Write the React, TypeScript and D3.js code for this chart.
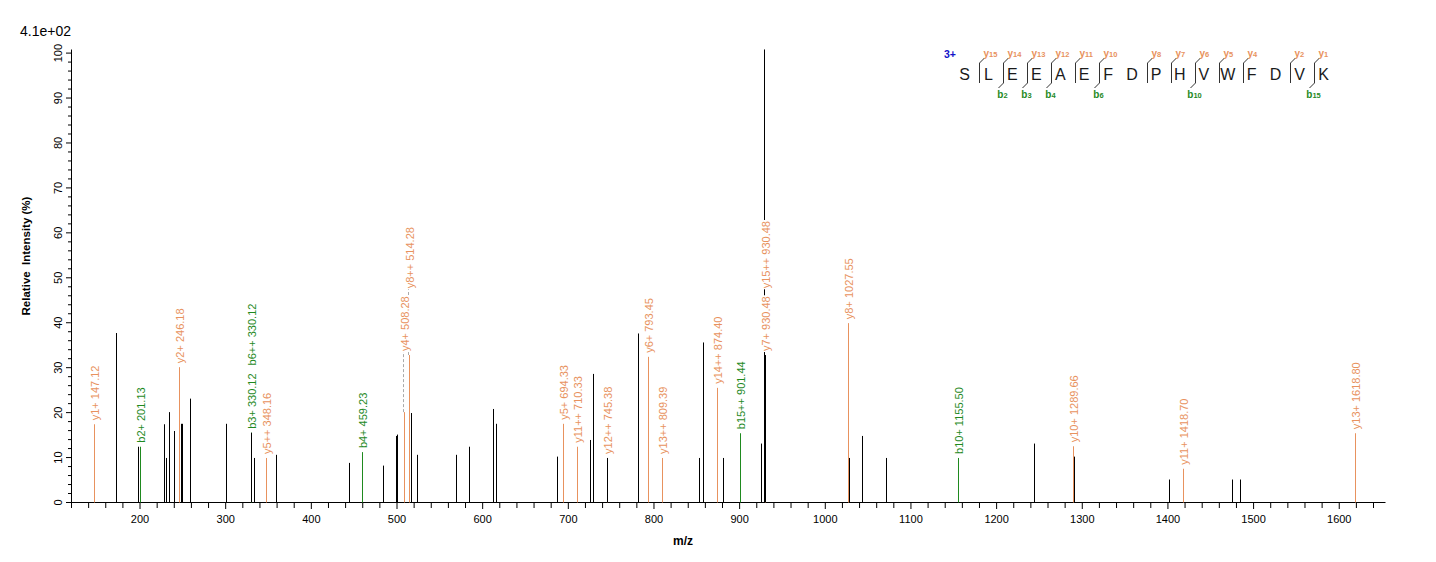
import React, { useEffect, useRef } from "react";
import * as d3 from "d3";

const W = 1436;
const H = 562;
const FONT = '"Liberation Sans", Arial, Helvetica, sans-serif';
const ORANGE = "#E8925E";
const GREEN = "#1F8A1F";

// unassigned peaks (m/z, relative intensity %)
const peakMz = [
  172.7, 198.6, 228.7, 231.1, 234.2, 240.4, 248.2, 249.4, 259.1, 300.4, 330.4, 333.6, 359.5,
  444.7, 484.4, 499.2, 500.4, 517.0, 523.7, 568.9, 584.8, 612.9, 616.2, 686.8, 726.1, 729.6,
  746.0, 782.1, 853.7, 857.9, 881.3, 926.1, 928.6, 929.5, 930.3, 1028.0, 1042.9, 1070.9,
  1244.4, 1290.4, 1402.0, 1474.8, 1485.3,
];
const peakInt = [
  37.6, 12.3, 17.3, 9.8, 20.0, 15.8, 17.4, 17.4, 23.0, 17.4, 15.4, 9.8, 10.5,
  8.7, 8.1, 14.7, 15.0, 19.8, 10.5, 10.5, 12.3, 20.7, 17.4, 10.1, 13.8, 28.5,
  9.8, 37.5, 9.8, 35.5, 9.8, 13.0, 32.7, 100.7, 32.7, 9.8, 14.7, 9.8,
  13.0, 10.1, 5.0, 5.0, 5.0,
];

// assigned fragment ions
const ionName = [
  "y1+", "b2+", "y2+", "b3+", "b6++", "y5++", "b4+", "y4+", "y8++", "y5+", "y11++", "y12++",
  "y6+", "y13++", "y14++", "b15++", "y7+", "y15++", "y8+", "b10+", "y10+", "y11+", "y13+",
];
const ionMz = [
  147.12, 201.13, 246.18, 330.12, 330.12, 348.16, 459.23, 508.28, 514.28, 694.33, 710.33, 745.38,
  793.45, 809.39, 874.4, 901.44, 930.48, 930.48, 1027.55, 1155.5, 1289.66, 1418.7, 1618.8,
];
const ionInt = [
  17.3, 12.3, 30.0, 15.4, 15.4, 9.8, 11.1, 20.0, 32.7, 17.4, 12.3, 9.8,
  32.3, 9.8, 25.4, 15.3, 32.7, 32.7, 39.8, 9.8, 12.4, 7.4, 15.3,
];

const sequence = "SLEEAEFDPHVWFDVK".split("");
const yIons = [15, 14, 13, 12, 11, 10, 8, 7, 6, 5, 4, 2, 1];
const bIons = [2, 3, 4, 6, 10, 15];
const charge = "3+";
const baseIntensity = "4.1e+02";

const xTickLabels = [200, 300, 400, 500, 600, 700, 800, 900, 1000, 1100, 1200, 1300, 1400, 1500, 1600];
const yTickLabels = [0, 10, 20, 30, 40, 50, 60, 70, 80, 90, 100];

export default function App() {
  const svgRef = useRef<SVGSVGElement>(null);

  useEffect(() => {
    const svg = d3.select(svgRef.current);
    svg.selectAll("*").remove();
    svg.append("rect").attr("width", W).attr("height", H).attr("fill", "#fff");

    const x = d3.scaleLinear().domain([120, 1654]).range([71, 1385]);
    const y = d3.scaleLinear().domain([0, 100.8]).range([502, 49]);
    const px = (mz: number) => Math.round(x(mz)) + 0.5;
    const base = y(0) + 0.5;

    // x axis
    const xAxis = svg
      .append("g")
      .attr("transform", `translate(0,${y(0)})`)
      .call(
        d3
          .axisBottom(x)
          .tickValues(d3.range(120, 1654, 20))
          .tickSize(6)
          .tickSizeOuter(0)
          .tickPadding(7)
          .tickFormat((d) => (xTickLabels.includes(+d) ? String(d) : ""))
      );
    xAxis.selectAll("text").attr("font-family", FONT).attr("font-size", 11).attr("fill", "#000");
    xAxis.selectAll(".tick line").attr("y2", (d: any) => (xTickLabels.includes(+d) ? 7 : 6));

    // y axis
    const yAxis = svg
      .append("g")
      .attr("transform", `translate(${x(120)},0)`)
      .call(
        d3
          .axisLeft(y)
          .tickValues(d3.range(0, 101, 2))
          .tickSize(5)
          .tickSizeOuter(0)
          .tickFormat((d) => (yTickLabels.includes(+d) ? String(d) : ""))
      );
    yAxis.selectAll(".tick line").attr("x2", (d: any) => (yTickLabels.includes(+d) ? -5 : -3));
    yAxis
      .selectAll("text")
      .attr("font-family", FONT)
      .attr("font-size", 11)
      .attr("fill", "#000")
      .attr("text-anchor", "middle")
      .attr("transform", "rotate(-90)")
      .attr("x", 0)
      .attr("y", -9)
      .attr("dy", null);

    svg
      .append("text")
      .attr("transform", `translate(30,256) rotate(-90)`)
      .attr("text-anchor", "middle")
      .attr("font-family", FONT)
      .attr("font-weight", "bold")
      .attr("font-size", 11.5)
      .attr("xml:space", "preserve")
      .text("Relative  Intensity (%)");

    svg
      .append("text")
      .attr("x", 683)
      .attr("y", 545)
      .attr("text-anchor", "middle")
      .attr("font-family", FONT)
      .attr("font-weight", "bold")
      .attr("font-size", 12)
      .text("m/z");

    svg
      .append("text")
      .attr("x", 20)
      .attr("y", 36)
      .attr("font-family", FONT)
      .attr("font-size", 14)
      .text(baseIntensity);

    // peaks: assigned first, unassigned drawn over them
    const ions = ionName.map((name, i) => ({
      name,
      mz: ionMz[i],
      int: ionInt[i],
      color: name[0] === "b" ? GREEN : ORANGE,
    }));

    svg
      .append("g")
      .selectAll("line")
      .data(ions)
      .join("line")
      .attr("x1", (d) => px(d.mz))
      .attr("x2", (d) => px(d.mz))
      .attr("y1", base)
      .attr("y2", (d) => y(d.int))
      .attr("stroke", (d) => d.color)
      .attr("stroke-width", 1);

    svg
      .append("g")
      .selectAll("line")
      .data(peakMz)
      .join("line")
      .attr("x1", (d) => px(d))
      .attr("x2", (d) => px(d))
      .attr("y1", base)
      .attr("y2", (d, i) => y(peakInt[i]))
      .attr("stroke", "#000")
      .attr("stroke-width", 1);

    // ion labels with simple collision handling
    const connG = svg.append("g");
    const labelG = svg.append("g");
    const placed: { x: number; top: number; bottom: number }[] = [];
    ions.forEach((ion, i) => {
      const lx = px(ion.mz);
      const top = y(ion.int);
      const g = labelG.append("g");
      const t = g
        .append("text")
        .attr("x", 0)
        .attr("y", 0)
        .attr("dominant-baseline", "central")
        .attr("font-family", FONT)
        .attr("font-size", 11)
        .attr("fill", ion.color)
        .text(`${ion.name} ${ion.mz.toFixed(2)}`);
      const len = (t.node() as SVGTextElement).getComputedTextLength();
      let start = top - 4;
      ions.forEach((o, j) => {
        if (j === i || o.mz === ion.mz) return;
        if (Math.abs(px(o.mz) - lx) < 8 && y(o.int) < start) start = y(o.int) - 4;
      });
      let moved = true;
      while (moved) {
        moved = false;
        for (const b of placed) {
          if (Math.abs(b.x - lx) < 11 && start > b.top && start - len < b.bottom) {
            start = b.top - 8;
            moved = true;
          }
        }
      }
      placed.push({ x: lx, top: start - len, bottom: start });
      g.attr("transform", `translate(${lx},${start}) rotate(-90)`);
      g.insert("rect", "text")
        .attr("x", -1)
        .attr("y", -6)
        .attr("width", len + 2)
        .attr("height", 12)
        .attr("fill", "#fff");
      const stacked = ions.some((o, j) => j < i && o.mz === ion.mz);
      if (start < top - 4.5 && !stacked) {
        connG
          .append("line")
          .attr("x1", lx - 1)
          .attr("x2", lx - 1)
          .attr("y1", top)
          .attr("y2", start)
          .attr("stroke", "#aaa")
          .attr("stroke-dasharray", "3,2");
      }
    });

    // peptide fragment map
    const n = sequence.length;
    const rx = d3.scaleLinear().domain([0, n - 1]).range([964.5, 1323.5]);
    const pep = svg.append("g").attr("font-family", FONT);
    pep
      .append("text")
      .attr("x", 944)
      .attr("y", 58)
      .attr("font-size", 10.5)
      .attr("font-weight", "bold")
      .attr("fill", "#1212C8")
      .text(charge);
    pep
      .selectAll("text.res")
      .data(sequence)
      .join("text")
      .attr("class", "res")
      .attr("x", (d, i) => rx(i))
      .attr("y", 80)
      .attr("text-anchor", "middle")
      .attr("font-size", 16)
      .attr("fill", "#1a1a1a")
      .text((d) => d);

    d3.range(1, n).forEach((i) => {
      const hasY = yIons.includes(n - i);
      const hasB = bIons.includes(i);
      if (!hasY && !hasB) return;
      const mx = Math.round(rx(i - 1 + 0.62)) + 0.5;
      let d = hasY ? `M${mx + 5},58L${mx},63` : `M${mx},63`;
      d += "V83";
      if (hasB) d += `L${mx - 5},88`;
      pep.append("path").attr("d", d).attr("fill", "none").attr("stroke", "#333").attr("stroke-width", 1);
      if (hasY) {
        const t = pep
          .append("text")
          .attr("x", mx + 4)
          .attr("y", 57)
          .attr("font-weight", "bold")
          .attr("fill", ORANGE);
        t.append("tspan").attr("font-size", 10).text("y");
        t.append("tspan").attr("font-size", 7.5).text(String(n - i));
      }
      if (hasB) {
        const t = pep
          .append("text")
          .attr("x", mx - 1)
          .attr("y", 98)
          .attr("text-anchor", "middle")
          .attr("font-weight", "bold")
          .attr("fill", GREEN);
        t.append("tspan").attr("font-size", 10).text("b");
        t.append("tspan").attr("font-size", 7.5).text(String(i));
      }
    });
  }, []);

  return (
    <svg
      ref={svgRef}
      width={W}
      height={H}
      style={{ position: "absolute", left: 0, top: 0, display: "block" }}
    />
  );
}
